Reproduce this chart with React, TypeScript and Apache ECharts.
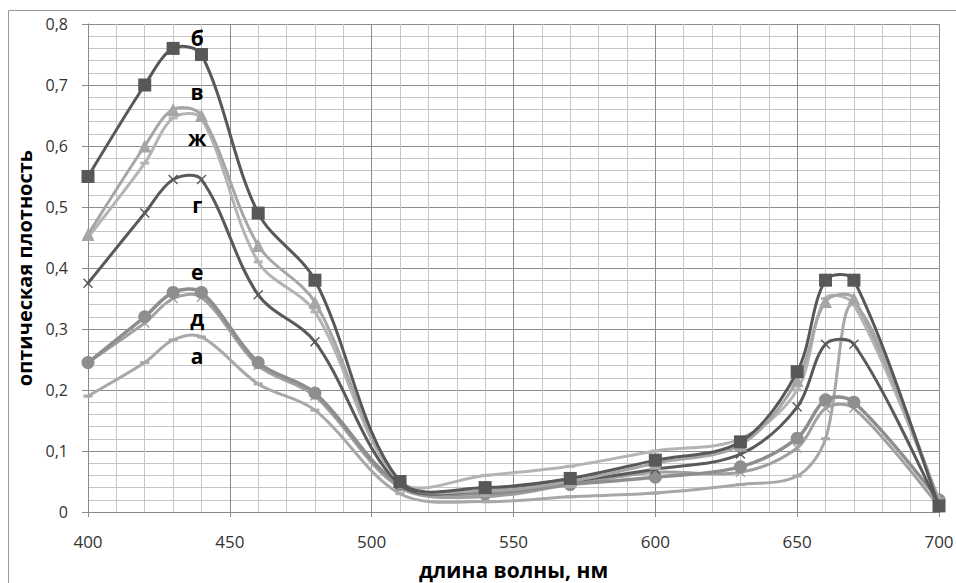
import React, { useEffect, useRef } from "react";
import * as echarts from "echarts";

const wavelengths = [400, 420, 430, 440, 460, 480, 510, 540, 570, 600, 630, 650, 660, 670, 700];

const seriesA = [0.19, 0.245, 0.282, 0.287, 0.21, 0.167, 0.03, 0.017, 0.025, 0.031, 0.045, 0.059, 0.12, 0.34, 0.02];
const seriesB = [0.55, 0.70, 0.76, 0.75, 0.49, 0.38, 0.05, 0.04, 0.055, 0.085, 0.115, 0.23, 0.38, 0.38, 0.01];
const seriesV = [0.455, 0.60, 0.66, 0.65, 0.437, 0.344, 0.05, 0.035, 0.05, 0.08, 0.11, 0.215, 0.345, 0.35, 0.02];
const seriesG = [0.375, 0.49, 0.545, 0.545, 0.356, 0.279, 0.045, 0.035, 0.05, 0.07, 0.095, 0.172, 0.275, 0.275, 0.01];
const seriesD = [0.245, 0.31, 0.35, 0.352, 0.24, 0.19, 0.04, 0.025, 0.045, 0.065, 0.065, 0.105, 0.17, 0.17, 0.01];
const seriesE = [0.245, 0.32, 0.36, 0.36, 0.245, 0.195, 0.045, 0.03, 0.045, 0.057, 0.074, 0.121, 0.184, 0.18, 0.02];
const seriesZh = [0.45, 0.572, 0.646, 0.645, 0.41, 0.328, 0.05, 0.06, 0.075, 0.1, 0.12, 0.2, 0.35, 0.34, 0.02];

const seriesNames = ["а", "б", "в", "г", "д", "е", "ж"];
const labelX = 438.5;
const labelY = [0.256, 0.777, 0.689, 0.503, 0.318, 0.393, 0.613];

const xTitle = "длина волны, нм";
const yTitle = "оптическая плотность";

const X_SYM = "path://M1,0L5,4L9,0L10,1L6,5L10,9L9,10L5,6L1,10L0,9L4,5L0,1Z";
const FONT = "Open Sans";

export default function App() {
  const ref = useRef<HTMLDivElement>(null);
  useEffect(() => {
    document.body.style.margin = "0";
    const chart = echarts.init(ref.current!, null, { renderer: "svg" });
    const all = [seriesA, seriesB, seriesV, seriesG, seriesD, seriesE, seriesZh];
    const styles: any[] = [
      { color: "#a8a8a8", symbol: "rect", size: [9, 3], width: 3, z: 2 },
      { color: "#585858", symbol: "rect", size: 13, width: 3, z: 8 },
      { color: "#a6a6a6", symbol: "triangle", size: 13, width: 3, z: 7 },
      { color: "#5a5a5a", symbol: X_SYM, size: 10, width: 3, z: 5 },
      { color: "#a0a0a0", symbol: X_SYM, size: 10, width: 3, z: 3 },
      { color: "#8e8e8e", symbol: "circle", size: 13, width: 3.5, z: 4 },
      { color: "#b4b4b4", symbol: "rect", size: [9, 3], width: 3, z: 6 },
    ];
    const dist = (a: number[], b: number[]) => Math.hypot(a[0] - b[0], a[1] - b[1]);
    const series: any[] = [];
    all.forEach((vals, i) => {
      const n = wavelengths.length;
      const st = styles[i];
      series.push({
        name: seriesNames[i],
        type: "custom",
        coordinateSystem: "cartesian2d",
        z: st.z,
        silent: true,
        data: wavelengths.slice(0, n - 1).map((w, j) => [w, vals[j]]),
        encode: { x: 0, y: 1 },
        renderItem: (params: any, api: any) => {
          const j = params.dataIndex;
          const P = (k: number) => {
            const kk = Math.max(0, Math.min(n - 1, k));
            return api.coord([wavelengths[kk], vals[kk]]);
          };
          const p0 = P(j - 1);
          const p1 = P(j);
          const p2 = P(j + 1);
          const p3 = P(j + 2);
          const d01 = dist(p0, p1);
          const d12 = dist(p1, p2);
          const d23 = dist(p2, p3);
          const f1 = d01 + d12 > 0 ? d12 / (d01 + d12) / 3 : 0;
          const f2 = d12 + d23 > 0 ? d12 / (d12 + d23) / 3 : 0;
          const g1 = j === 0 ? 1 / 6 : f1;
          const g2 = j + 2 > n - 1 ? 1 / 6 : f2;
          return {
            type: "bezierCurve",
            shape: {
              x1: p1[0],
              y1: p1[1],
              x2: p2[0],
              y2: p2[1],
              cpx1: p1[0] + (p2[0] - p0[0]) * g1,
              cpy1: p1[1] + (p2[1] - p0[1]) * g1,
              cpx2: p2[0] - (p3[0] - p1[0]) * g2,
              cpy2: p2[1] - (p3[1] - p1[1]) * g2,
            },
            style: { stroke: st.color, lineWidth: st.width, fill: "none", lineCap: "round" },
          };
        },
      });
      series.push({
        name: seriesNames[i],
        type: "scatter",
        z: st.z,
        data: wavelengths.map((w, j) => [w, vals[j]]),
        symbol: st.symbol,
        symbolSize: st.size,
        itemStyle: { color: st.color, opacity: 1 },
        markPoint: {
          symbol: "circle",
          symbolSize: 0,
          silent: true,
          data: [
            {
              coord: [labelX, labelY[i]],
              label: {
                show: true,
                position: "inside",
                formatter: seriesNames[i],
                fontSize: 21,
                fontWeight: "bold",
                color: "#000",
                fontFamily: FONT,
              },
            },
          ],
        },
      });
    });
    chart.setOption({
      animation: false,
      backgroundColor: "#fff",
      grid: { left: 88, right: 17, top: 24, bottom: 71, containLabel: false, outerBoundsMode: "none" },
      graphic: [
        {
          type: "rect",
          shape: { x: 8.5, y: 10.5, width: 1000, height: 700 },
          style: { fill: "none", stroke: "#9a9a9a", lineWidth: 1 },
          silent: true,
          z: -10,
        },
      ],
      xAxis: {
        type: "value",
        min: 400,
        max: 700,
        interval: 50,
        name: xTitle,
        nameLocation: "middle",
        nameGap: 46,
        nameTextStyle: { fontSize: 21, lineHeight: 23, fontWeight: "bold", color: "#000", fontFamily: FONT },
        axisLine: { show: true, onZero: false, lineStyle: { color: "#8a8a8a" } },
        axisTick: { show: true, length: 5, lineStyle: { color: "#8a8a8a" } },
        axisLabel: { fontSize: 17, color: "#333", margin: 21, fontFamily: FONT },
        splitLine: { show: true, lineStyle: { color: "#8c8c8c", width: 1 } },
        minorTick: { show: false, splitNumber: 5 },
        minorSplitLine: { show: true, lineStyle: { color: "#c6c6c6", width: 1 } },
      },
      yAxis: {
        type: "value",
        min: 0,
        max: 0.8,
        interval: 0.1,
        name: yTitle,
        nameLocation: "middle",
        nameGap: 44,
        nameTextStyle: { fontSize: 20, fontWeight: "bold", color: "#000", fontFamily: FONT },
        axisLine: { show: true, lineStyle: { color: "#8a8a8a" } },
        axisTick: { show: true, length: 6, lineStyle: { color: "#8a8a8a" } },
        axisLabel: {
          fontSize: 16,
          color: "#333",
          margin: 20,
          fontFamily: FONT,
          formatter: (v: number) => (v === 0 ? "0" : v.toFixed(1).replace(".", ",")),
        },
        splitLine: { show: true, lineStyle: { color: "#8c8c8c", width: 1 } },
        minorTick: { show: false, splitNumber: 5 },
        minorSplitLine: { show: true, lineStyle: { color: "#c6c6c6", width: 1 } },
      },
      series,
    });
    return () => chart.dispose();
  }, []);
  return <div ref={ref} style={{ position: "fixed", left: 0, top: 0, width: 956, height: 583 }} />;
}
